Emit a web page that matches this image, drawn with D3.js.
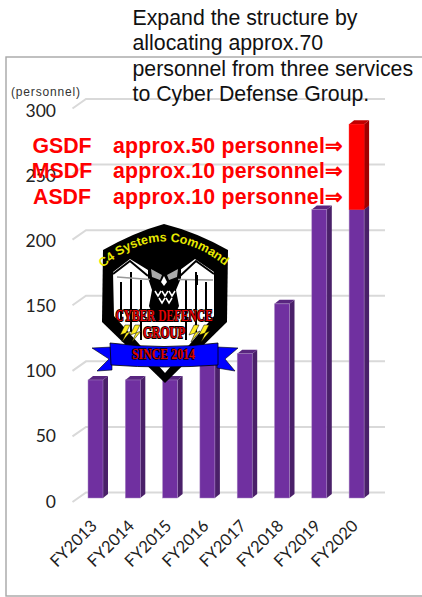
<!DOCTYPE html>
<html><head><meta charset="utf-8">
<script src="https://cdn.jsdelivr.net/npm/d3@7"></script>
<style>html,body{margin:0;padding:0;background:#fff}svg{display:block}</style>
</head><body><div id="c"></div>
<script>
const categories=["FY2013","FY2014","FY2015","FY2016","FY2017","FY2018","FY2019","FY2020"];
const baseValues=[90,90,90,105,110,148,220,220];
const addedValues=[0,0,0,0,0,0,0,65];
const yTicks=[0,50,100,150,200,250,300];
const titleLines=["Expand the structure by","allocating approx.70","personnel from three services","to Cyber Defense Group."];
const serviceNames=["GSDF","MSDF","ASDF"];
const serviceNotes=["approx.50 personnel⇒","approx.10 personnel⇒","approx.10 personnel⇒"];

const W=422,H=597,dx=5,dy=4;
const SANS="'Liberation Sans',Arial,sans-serif", CAL="Lato,Carlito,'Open Sans',sans-serif", SERIF="'Liberation Serif',serif";
const svg=d3.select("#c").append("svg").attr("width",W).attr("height",H);
svg.append("rect").attr("x",6).attr("y",57).attr("width",W).attr("height",539).attr("fill","#fff").attr("stroke","#a6a6a6").attr("stroke-width",1.4);

const y=d3.scaleLinear().domain([0,300]).range([498,104.5]);
const yLabel=d3.scaleLinear().domain([0,300]).range([507.5,116.5]);
const x=d3.scaleBand().domain(categories).range([88,364.1]).paddingInner(0.598).paddingOuter(0).align(0);
const bw=x.bandwidth();

const gg=svg.append("g");
yTicks.forEach(t=>{
  gg.append("path").attr("fill","none").attr("stroke","#d9d9d9").attr("stroke-width",2)
    .attr("d",`M72.5,${y(t)+4}L86,${y(t)-5.5}H385`);
  gg.append("text").attr("x",56).attr("y",yLabel(t)).attr("text-anchor","end")
    .attr("font-family",CAL).attr("font-size",17.5).attr("fill","#222").text(t);
});
svg.append("text").attr("x",11).attr("y",96).attr("textLength",69)
  .attr("font-family",SANS).attr("font-size",12).attr("fill","#333").text("(personnel)");

function box(g,c,v0,v1,front,top,side,stroke){
  const x0=x(c),y0=y(v0),y1=y(v1);
  g.append("path").attr("fill",side).attr("d",`M${x0+bw},${y0}L${x0+bw+dx},${y0-dy}V${y1-dy}L${x0+bw},${y1}Z`);
  g.append("path").attr("fill",top).attr("d",`M${x0},${y1}L${x0+dx},${y1-dy}H${x0+bw+dx}L${x0+bw},${y1}Z`);
  g.append("rect").attr("x",x0).attr("y",y1).attr("width",bw).attr("height",y0-y1).attr("fill",front).attr("stroke",stroke).attr("stroke-width",.5);
}
const bars=svg.append("g");
categories.forEach((c,i)=>{
  box(bars,c,0,baseValues[i],"#7030a0","#59267f","#4a2069","#a98bc4");
  if(addedValues[i]>0) box(bars,c,baseValues[i],baseValues[i]+addedValues[i],"#ff0000","#c00000","#a00000","#ff0000");
});

categories.forEach(c=>{
  svg.append("text").attr("transform",`translate(${x(c)+7},${524}) rotate(-45)`)
    .attr("text-anchor","end").attr("dominant-baseline","middle")
    .attr("font-family",CAL).attr("font-size",16.5).attr("fill","#222").text(c);
});

titleLines.forEach((t,i)=>svg.append("text").attr("x",132.5).attr("y",24.5+i*25.5)
  .attr("font-family",SANS).attr("font-size",21.3).attr("fill","#111").text(t));

serviceNames.forEach((t,i)=>{
  const yy=153+i*25.4;
  svg.append("text").attr("x",62).attr("y",yy).attr("text-anchor","middle")
    .attr("font-family",SANS).attr("font-weight",700).attr("font-size",21.3).attr("fill","#ff0000").text(t);
  svg.append("text").attr("x",113).attr("y",yy).attr("textLength",230)
    .attr("font-family",SANS).attr("font-weight",700).attr("font-size",21.3).attr("fill","#ff0000").text(serviceNotes[i]);
});

// emblem
const logo=svg.append("g");
logo.append("path").attr("fill","#000").attr("d","M103,250Q135,232 164,224Q196,232 228,250L227,322L165,383L102,322Z");
logo.append("path").attr("fill","#fff").attr("d","M113,272L130,259L148,270H180L195,259L214,272L214,316L165,373L114,316Z");
logo.append("path").attr("fill","none").attr("stroke","#000").attr("stroke-width",2)
  .attr("d","M113,274L130,261L148,276M214,274L196,261L180,276M121,282V322M131,272V332M141,280V340M206,282V322M196,272V332M186,280V340");
logo.append("path").attr("fill","#000").attr("d","M148,256L155,263H173L181,256L181,278L176,290L179,306L172,322L156,322L149,306L152,290L148,278Z");
logo.append("path").attr("fill","#aaa").attr("d","M151,269L162,275L160,280L152,277ZM178,269L167,275L169,280L177,277Z");
logo.append("path").attr("fill","#fff").attr("d","M164,276L167,282L164,286L161,282Z");
logo.append("path").attr("fill","none").attr("stroke","#fff").attr("stroke-width",1.5).attr("d","M155,291L158,296L161,291M162,291L165,296L168,291M169,291L172,296L175,291M159,298L162,303L165,298M166,298L169,303L172,298");
logo.append("path").attr("fill","none").attr("stroke","#999").attr("stroke-width",1.5).attr("d","M117,277L150,279.5M178,279.5L213,280");
logo.append("path").attr("fill","#000").attr("d","M195,275H198V285H195Z");
logo.append("path").attr("id","cmdArc").attr("fill","none").attr("d","M98,272Q163,212 230,270");
logo.append("text").attr("font-family",SANS).attr("font-weight",700).attr("font-size",12.5).attr("fill","#e8e800")
  .append("textPath").attr("href","#cmdArc").attr("startOffset","50%").attr("text-anchor","middle").text("C4 Systems Command");
[["CYBER DEFENCE",321,97],["GROUP",338,42]].forEach(d=>logo.append("text").attr("x",164).attr("y",d[1]).attr("text-anchor","middle").attr("textLength",d[2]).attr("lengthAdjust","spacingAndGlyphs")
  .attr("font-family",SERIF).attr("font-weight",700).attr("font-size",16).attr("fill","#e00000").attr("stroke","#000").attr("stroke-width",1.8).attr("paint-order","stroke").text(d[0]));
logo.append("path").attr("fill","#ffee22").attr("stroke","#000").attr("stroke-width",.5)
  .attr("d","M125,325L120,335L126,333L122,342L131,331L126,333L130,325ZM135,325L130,335L136,333L132,342L141,331L136,333L140,325ZM194,325L189,335L195,333L191,342L200,331L195,333L199,325ZM204,325L199,335L205,333L201,342L210,331L205,333L209,325Z");
logo.append("path").attr("fill","#0000ff").attr("stroke","#000").attr("stroke-width",.6).attr("d","M92,348L112,347V370L97,371L109,359ZM238,348L217,347V368L235,371L225,359Z");
logo.append("path").attr("fill","#0000ff").attr("stroke","#000").attr("stroke-width",.8).attr("d","M110,343Q164,350 218,343V365Q164,369 111,365Z");
logo.append("text").attr("x",163.5).attr("y",358.5).attr("text-anchor","middle").attr("textLength",63).attr("lengthAdjust","spacingAndGlyphs").attr("font-family",SERIF).attr("font-weight",700).attr("font-size",14.5)
  .attr("fill","#e00000").attr("stroke","#000").attr("stroke-width",1.4).attr("paint-order","stroke").text("SINCE 2014");
</script></body></html>
